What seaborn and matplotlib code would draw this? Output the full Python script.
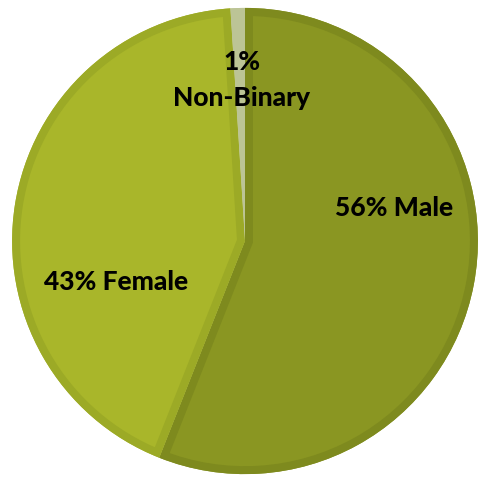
import matplotlib
matplotlib.use('Agg')
import matplotlib.pyplot as plt
from matplotlib.patches import Wedge
import seaborn as sns

labels = ['Male', 'Female', 'Non-Binary']
shares = [56, 43, 1]
fill_colors = ['#8A9622', '#A9B62A', '#C3CA9E']
edge_colors = ['#7E8A1E', '#9CAA26', '#BCC496']

sns.set_theme(style='white')
plt.rcParams['font.family'] = ['Lato', 'DejaVu Sans']

fig = plt.figure(figsize=(4.8, 4.79), dpi=100)
ax = fig.add_axes([0, 0, 1, 1])

wedges, _ = ax.pie(shares, colors=fill_colors,
                   startangle=90, counterclock=False, radius=1,
                   wedgeprops=dict(linewidth=0))
# inner border: thick outline of a copy, clipped to the original wedge
for w, ec in zip(wedges, edge_colors):
    rim = Wedge(w.center, w.r, w.theta1, w.theta2, facecolor='none',
                edgecolor=ec, linewidth=11.5)
    ax.add_patch(rim)
    rim.set_clip_path(w)

ax.set_xlim(-1.052, 1.009)
ax.set_ylim(-1.021, 1.034)
ax.set_aspect('auto')
ax.axis('off')

txt = dict(ha='center', va='center', fontsize=19, fontweight=900, color='black')
ax.text(0.64, 0.142, f'{shares[0]}% {labels[0]}', **txt)
ax.text(-0.552, -0.176, f'{shares[1]}% {labels[1]}', **txt)
ax.text(-0.013, 0.768, f'{shares[2]}%', **txt)
ax.text(-0.013, 0.614, labels[2], **txt)

fig.savefig('out.png', dpi=100, facecolor='white')
